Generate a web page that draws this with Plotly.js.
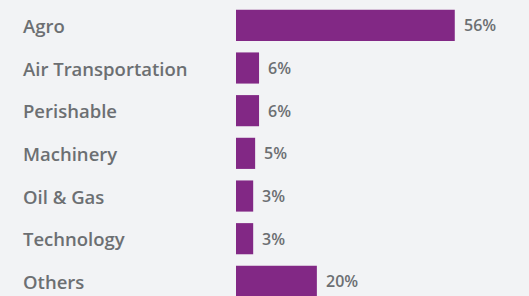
<!DOCTYPE html>
<html>
<head>
<meta charset="utf-8">
<script src="https://cdn.plot.ly/plotly-3.0.1.min.js"></script>
<style>
html,body{margin:0;padding:0;background:#f2f3f5;}
#chart{width:529px;height:296px;}
</style>
</head>
<body>
<div id="chart"></div>
<script>
const categories = ["Agro", "Air Transportation", "Perishable", "Machinery", "Oil & Gas", "Technology", "Others"];
const values = [56, 5.9, 5.9, 4.9, 4.4, 4.4, 20.7];
const valueLabels = ["56%", "6%", "6%", "5%", "3%", "3%", "20%"];

const textColor = "#6c6f72";
const barColor = "#822885";
const fontFamily = "'Open Sans', 'Noto Sans', sans-serif";

const trace = {
  type: "bar",
  orientation: "h",
  y: categories,
  x: values,
  marker: {color: barColor},
  hoverinfo: "skip",
  cliponaxis: true
};

const annotations = [];
categories.forEach((c, i) => {
  annotations.push({
    xref: "paper", yref: "y", x: 0, y: c,
    xanchor: "left", yanchor: "middle", xshift: -215,
    text: c, showarrow: false,
    font: {family: fontFamily, size: 18.5, color: textColor, weight: 600}
  });
  annotations.push({
    xref: "x", yref: "y", x: values[i], y: c,
    xanchor: "left", yanchor: "middle", xshift: 7,
    text: valueLabels[i], showarrow: false,
    font: {family: fontFamily, size: 16, color: textColor, weight: 600}
  });
});

const layout = {
  width: 529, height: 296,
  margin: {l: 236, r: 0, t: 4, b: 0, pad: 0},
  paper_bgcolor: "#f2f3f5",
  plot_bgcolor: "#f2f3f5",
  showlegend: false,
  bargap: 0.27,
  xaxis: {range: [0, 75], showgrid: false, zeroline: false, showticklabels: false, showline: false, fixedrange: true},
  yaxis: {type: "category", range: [6.343, -0.5], showgrid: false, zeroline: false, showticklabels: false, showline: false, fixedrange: true},
  annotations: annotations
};

Plotly.newPlot("chart", [trace], layout, {displayModeBar: false, staticPlot: true});
</script>
</body>
</html>
